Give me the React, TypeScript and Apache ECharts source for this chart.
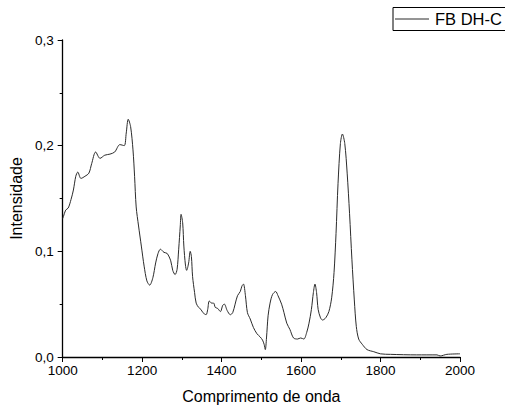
import React, { useEffect, useRef } from "react";
import * as echarts from "echarts";

const seriesName = "FB DH-C";
const wavelengths = [
  1000, 1002, 1007.5, 1014, 1021, 1027, 1033, 1038, 1046, 1056, 1066, 1073, 1083, 1094, 1106, 1119, 1131, 1144, 1155, 1160,
  1165, 1171, 1177, 1181, 1185, 1191, 1198, 1205, 1212, 1219, 1227, 1234, 1240, 1246, 1255, 1263, 1272, 1277, 1283, 1288,
  1292, 1296, 1298, 1302, 1305, 1309, 1312, 1317, 1321, 1324, 1327, 1332, 1336, 1342, 1348, 1353, 1361, 1365, 1369, 1375,
  1380, 1384, 1390, 1397, 1403, 1407, 1414, 1422, 1428, 1434, 1440, 1447, 1451, 1455, 1460, 1465, 1472, 1480, 1489, 1497,
  1503, 1507, 1510, 1513, 1517, 1522, 1528, 1536, 1542, 1551, 1557, 1564, 1572, 1581, 1591, 1599, 1607, 1614, 1620, 1626,
  1631, 1635, 1639, 1643, 1649, 1654, 1662, 1670, 1677, 1683, 1688, 1693, 1699, 1704, 1710, 1716, 1722, 1728, 1734, 1739,
  1745, 1754, 1766, 1783, 1800, 1825, 1891, 1942, 1950, 1967, 2000,
];
const intensities = [
  0.131, 0.133, 0.139, 0.141, 0.149, 0.158, 0.171, 0.175, 0.169, 0.171, 0.174, 0.183, 0.194, 0.188, 0.191, 0.192, 0.194, 0.201, 0.2, 0.212,
  0.225, 0.218, 0.196, 0.171, 0.142, 0.124, 0.105, 0.086, 0.072, 0.068, 0.075, 0.089, 0.098, 0.102, 0.099, 0.098, 0.091, 0.082, 0.078, 0.083,
  0.102, 0.124, 0.135, 0.127, 0.105, 0.087, 0.082, 0.089, 0.1, 0.095, 0.076, 0.061, 0.051, 0.047, 0.045, 0.042, 0.04, 0.045, 0.053, 0.051,
  0.051, 0.047, 0.046, 0.043, 0.049, 0.05, 0.044, 0.04, 0.042, 0.05, 0.058, 0.062, 0.067, 0.069, 0.058, 0.042, 0.036, 0.028, 0.022, 0.019,
  0.016, 0.012, 0.007, 0.018, 0.039, 0.051, 0.059, 0.062, 0.058, 0.05, 0.042, 0.032, 0.026, 0.018, 0.017, 0.018, 0.017, 0.023, 0.032, 0.045,
  0.061, 0.069, 0.061, 0.045, 0.037, 0.035, 0.037, 0.043, 0.056, 0.08, 0.117, 0.164, 0.202, 0.211, 0.202, 0.174, 0.136, 0.092, 0.054, 0.029,
  0.017, 0.012, 0.007, 0.005, 0.003, 0.0025, 0.002, 0.002, 0.001, 0.0025, 0.003,
];
const xTicks = [1000, 1200, 1400, 1600, 1800, 2000];
const yTicks = [0, 0.1, 0.2, 0.3];

const FONT = "'Liberation Sans', Arial, sans-serif";

export default function App() {
  const ref = useRef<HTMLDivElement>(null);
  useEffect(() => {
    if (!ref.current) return;
    const chart = echarts.init(ref.current, null, { renderer: "svg" });
    const data = wavelengths.map((w, i) => [w, intensities[i]]);
    chart.setOption({
      animation: false,
      backgroundColor: "#ffffff",
      grid: { left: 61, right: 45, top: 40, bottom: 51, containLabel: false },
      xAxis: {
        type: "value",
        min: xTicks[0],
        max: xTicks[xTicks.length - 1],
        interval: 200,
        name: "Comprimento de onda",
        nameLocation: "middle",
        nameGap: 31,
        nameTextStyle: { fontFamily: FONT, fontSize: 16, color: "#000" },
        axisLine: { show: true, lineStyle: { color: "#000", width: 1.3 } },
        axisTick: { show: true, length: 5, lineStyle: { color: "#000", width: 1 } },
        minorTick: { show: true, splitNumber: 2, length: 3, lineStyle: { color: "#000", width: 1 } },
        splitLine: { show: false },
        axisLabel: {
          fontFamily: FONT,
          fontSize: 13.5,
          color: "#000",
          margin: 6,
          formatter: (v: number) => String(v),
        },
      },
      yAxis: {
        type: "value",
        min: yTicks[0],
        max: yTicks[yTicks.length - 1],
        interval: 0.1,
        name: "Intensidade",
        nameLocation: "middle",
        nameGap: 34,
        nameTextStyle: { fontFamily: FONT, fontSize: 16, color: "#000" },
        axisLine: { show: true, lineStyle: { color: "#000", width: 1.3 } },
        axisTick: { show: true, length: 5, lineStyle: { color: "#000", width: 1 } },
        minorTick: { show: true, splitNumber: 2, length: 3, lineStyle: { color: "#000", width: 1 } },
        splitLine: { show: false },
        axisLabel: {
          fontFamily: FONT,
          fontSize: 13.5,
          color: "#000",
          margin: 9,
          formatter: (v: number) => v.toFixed(1).replace(".", ","),
        },
      },
      series: [
        {
          name: seriesName,
          type: "line",
          data,
          showSymbol: false,
          smooth: 0.3,
          lineStyle: { color: "#2b2b2b", width: 1 },
        },
      ],
      graphic: [
        {
          type: "rect",
          shape: { x: 393, y: 7.5, width: 130, height: 23 },
          style: { fill: "#fff", stroke: "#000", lineWidth: 1 },
        },
        {
          type: "line",
          shape: { x1: 395, y1: 19, x2: 429, y2: 19 },
          style: { stroke: "#2b2b2b", lineWidth: 1 },
        },
        {
          type: "text",
          x: 435,
          y: 19,
          style: {
            text: seriesName,
            fontFamily: FONT,
            fontSize: 16.5,
            fill: "#000",
            verticalAlign: "middle",
            align: "left",
          },
        },
      ],
    });
    return () => chart.dispose();
  }, []);
  return <div ref={ref} style={{ width: 505, height: 409, position: "absolute", left: 0, top: 0 }} />;
}
